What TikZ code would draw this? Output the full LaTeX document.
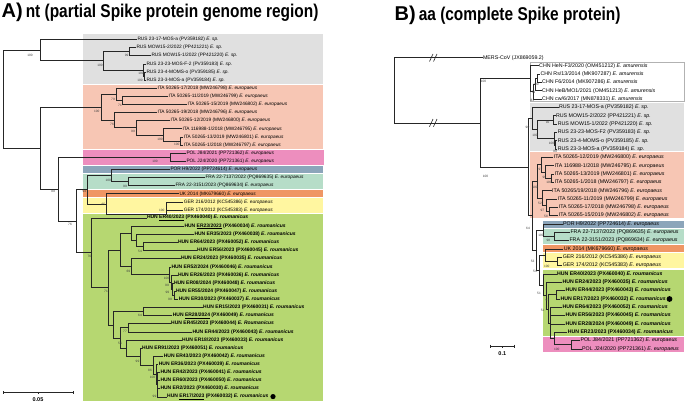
\documentclass[tikz,border=0pt]{standalone}
\usepackage{fontspec}
\setmainfont{Liberation Sans}
\usepackage{graphicx}
\newcommand\EEu{\textit{E. europaeus}}
\newcommand\ERo{\textit{E. roumanicus}}
\newcommand\ESp{\textit{E. sp.}}
\newcommand\EAm{\textit{E. amurensis}}
\definecolor{cgray}{RGB}{224,224,224}
\definecolor{csalmon}{RGB}{247,198,180}
\definecolor{cpink}{RGB}{237,142,190}
\definecolor{cblue}{RGB}{140,165,186}
\definecolor{cmint}{RGB}{182,221,200}
\definecolor{corange}{RGB}{239,150,100}
\definecolor{cyellow}{RGB}{255,246,160}
\definecolor{cgreen}{RGB}{182,215,113}
\begin{document}
\begin{tikzpicture}[x=1pt,y=-1pt,
  br/.style={draw=black!85,line width=0.6pt},
  la/.style={anchor=west,inner sep=0.3pt,font=\fontsize{4.8}{4.8}\selectfont},
  lah/.style={anchor=west,inner sep=0.3pt,font=\fontsize{5}{5}\selectfont\bfseries},
  lb/.style={anchor=west,inner sep=0.3pt,font=\fontsize{5.3}{5.3}\selectfont},
  lbh/.style={anchor=west,inner sep=0.3pt,font=\fontsize{5.2}{5.2}\selectfont\bfseries},
  bs/.style={inner sep=0pt,font=\fontsize{3.2}{3.2}\selectfont,text=black!75},
  ttl/.style={anchor=west,inner sep=0pt}]
\useasboundingbox (0,0) rectangle (685,403);
% ---------- titles
\node[ttl] (titleA) at (1.5,12.5) {\fontsize{20}{20}\selectfont\bfseries A)\hspace{3pt}\scalebox{0.835}[1]{\fontsize{18.5}{18.5}\selectfont\bfseries nt (partial Spike protein genome region)}};
\node[ttl] (titleB) at (394.5,15.5) {\fontsize{20}{20}\selectfont\bfseries B)\hspace{3pt}\scalebox{0.835}[1]{\fontsize{18.5}{18.5}\selectfont\bfseries aa (complete Spike protein)}};
% ---------- boxes A
\fill[cgray] (83,34.5) rectangle (323,83.6);
\fill[csalmon] (83,84.6) rectangle (323,148.6);
\fill[cpink] (83,149.8) rectangle (324,165);
\fill[cblue] (83,166) rectangle (323,173);
\fill[cmint] (83,174) rectangle (323,189.3);
\fill[corange] (83,190.3) rectangle (323,197);
\fill[cyellow] (83,198) rectangle (323,212.8);
\fill[cgreen] (83,213.8) rectangle (323,401);
% ---------- boxes B
\draw[draw=black!30,line width=0.4pt,fill=white] (530,62.3) rectangle (684,101.7);
\fill[cgray] (530,103.3) rectangle (684,150.7);
\fill[csalmon] (529.5,152.3) rectangle (684,218.5);
\fill[cblue] (542.7,220.8) rectangle (684,227.7);
\fill[cmint] (542.7,228.7) rectangle (684,244);
\fill[corange] (542.7,245) rectangle (684,252);
\fill[cyellow] (542.7,253) rectangle (684,268.5);
\fill[cgreen] (542.7,269.8) rectangle (684,336);
\fill[cpink] (542.7,337.3) rectangle (684,352);
% ---------- leaves A
\node[la] (a0) at (137,39.5) {RUS 23-17-MOS-a (PV359182) \ESp};
\node[la] (a1) at (136,47.6) {RUS MOW15-2/2022 (PP421221) \ESp};
\node[la] (a2) at (151,55.7) {RUS MOW15-1/2022 (PP421220) \ESp};
\node[la] (a3) at (146,63.9) {RUS 23-23-MOS-F-2 (PV359183) \ESp};
\node[la] (a4) at (146,72.0) {RUS 23-4-MOMS-o (PV359185) \ESp};
\node[la] (a5) at (146,80.1) {RUS 23-3-MOS-a (PV359184) \ESp};
\node[la] (a6) at (157,88.2) {ITA 50265-17/2018 (MW246798) \EEu};
\node[la] (a7) at (168,96.3) {ITA 50265-11/2019 (MW246799) \EEu};
\node[la] (a8) at (187,104.5) {ITA 50265-15/2019 (MW246802) \EEu};
\node[la] (a9) at (157,112.6) {ITA 50265-19/2018 (MW246796) \EEu};
\node[la] (a10) at (170,120.7) {ITA 50265-12/2019 (MW246800) \EEu};
\node[la] (a11) at (182,128.8) {ITA 116988-1/2018 (MW246795) \EEu};
\node[la] (a12) at (183.3,136.9) {ITA 50265-13/2019 (MW246801) \EEu};
\node[la] (a13) at (183.3,145.1) {ITA 50265-1/2018 (MW246797) \EEu};
\node[la] (a14) at (186,153.2) {POL J84/2021 (PP721362) \EEu};
\node[la] (a15) at (186,161.3) {POL J24/2020 (PP721361) \EEu};
\node[la] (a16) at (170,169.4) {POR H9/2022 (PP724614) \EEu};
\node[la] (a17) at (205,177.5) {FRA 22-7137/2022 (PQ869635) \EEu};
\node[la] (a18) at (175,185.7) {FRA 22-3151/2023 (PQ869634) \EEu};
\node[la] (a19) at (179,193.8) {UK 2014 (MK679660) \EEu};
\node[la] (a20) at (183.3,201.9) {GER 216/2012 (KC545386) \EEu};
\node[la] (a21) at (183.3,210.0) {GER 174/2012 (KC545383) \EEu};
\node[lah] (a22) at (146.5,218.1) {HUN \underline{ER40/2023} (PX460040) \ERo};
\node[lah] (a23) at (184,226.3) {HUN \underline{ER23/2023} (PX460034) \ERo};
\node[lah] (a24) at (194,234.4) {HUN ER35/2023 (PX460038) \ERo};
\node[lah] (a25) at (177.5,242.5) {HUN ER64/2023 (PX460052) \ERo};
\node[lah] (a26) at (196.7,250.6) {HUN ER56/2023 (PX460045) \ERo};
\node[lah] (a27) at (180.5,258.7) {HUN ER24/2023 (PX460035) \ERo};
\node[lah] (a28) at (171,266.9) {HUN ER52/2024 (PX460046) \ERo};
\node[lah] (a29) at (177.5,275.0) {HUN ER26/2023 (PX460036) \ERo};
\node[lah] (a30) at (173.5,283.1) {HUN ER08/2024 (PX460048) \ERo};
\node[lah] (a31) at (175.5,291.2) {HUN ER55/2024 (PX460047) \ERo};
\node[lah] (a32) at (178.3,299.3) {HUN ER30/2023 (PX460037) \ERo};
\node[lah] (a33) at (202.7,307.5) {HUN ER15/2023 (PX460031) \ERo};
\node[lah] (a34) at (172.3,315.6) {HUN \underline{ER28/2024} (PX460049) \ERo};
\node[lah] (a35) at (170.7,323.7) {HUN ER45/2023 (PX460044) \textit{E. Roumanicus}};
\node[lah] (a36) at (192,331.8) {HUN ER44/2023 (PX460043) \ERo};
\node[lah] (a37) at (181.7,339.9) {HUN ER18/2023 (PX460033) \ERo};
\node[lah] (a38) at (141.7,348.1) {HUN ER91/2023 (PX460051) \ERo};
\node[lah] (a39) at (163.3,356.2) {HUN ER43/2023 (PX460042) \ERo};
\node[lah] (a40) at (158.3,364.3) {HUN ER36/2023 (PX460039) \ERo};
\node[lah] (a41) at (160,372.4) {HUN ER42/2023 (PX460041) \ERo};
\node[lah] (a42) at (160,380.5) {HUN ER60/2023 (PX460050) \ERo};
\node[lah] (a43) at (160,388.7) {HUN ER2/2023 (PX460030) \ERo};
\node[lah] (a44) at (166.7,396.8) {HUN \underline{ER17/2023} (PX460032) \ERo};
\fill[black] (273,396.6) circle (2.6);
% ---------- internal nodes A
\coordinate (aRoot) at (3,99.2);
\coordinate (aRr) at (40,50.2);
\coordinate (aRsub) at (103,60.8);
\coordinate (aRmow) at (129,51.65);
\coordinate (aR3) at (143,70);
\coordinate (aR4) at (144.5,76.05);
\coordinate (aN1) at (40,148.2);
\coordinate (aIroot) at (101.5,107.25);
\coordinate (aIA) at (116.7,94.3);
\coordinate (aIA2) at (122.7,100.4);
\coordinate (aIB) at (114.3,120.2);
\coordinate (aIB2) at (136.7,127.8);
\coordinate (aIB3) at (163.3,134.9);
\coordinate (aIB4) at (180,141);
\coordinate (aN2) at (58.3,189.2);
\coordinate (aP) at (170,157.25);
\coordinate (aN3) at (76.7,221.2);
\coordinate (aG1) at (87.3,189.7);
\coordinate (aPF) at (111.7,175.5);
\coordinate (aF) at (128.3,181.6);
\coordinate (aUG) at (106.7,203.9);
\coordinate (aG) at (166.7,214.05);
\coordinate (aH) at (91.7,252.75);
\coordinate (aHR2) at (108.5,287.4);
\coordinate (aNA) at (120,250);
\coordinate (aN23) at (131.7,233.4);
\coordinate (aN35) at (136.7,240.5);
\coordinate (aN64) at (143.3,246.55);
\coordinate (aN24) at (131.7,266.6);
\coordinate (aN52) at (169,274.5);
\coordinate (aN26) at (171.5,282.1);
\coordinate (aN08) at (172.5,289.2);
\coordinate (aN55) at (174,295.25);
\coordinate (aNB) at (113,324.8);
\coordinate (aN15) at (143.3,311.55);
\coordinate (aNC) at (120,338);
\coordinate (aN45) at (128.3,327.75);
\coordinate (aN18) at (126,348.3);
\coordinate (aN91) at (140.5,356.7);
\coordinate (aN43) at (153.3,365.3);
\coordinate (aN36) at (156,374.45);
\coordinate (aN42) at (157.5,384.6);
\foreach \p/\c in {aRoot/aRr,aRoot/aN1,aRr/a0,aRr/aRsub,aRsub/aRmow,aRsub/aR3,aRmow/a1,aRmow/a2,aR3/a3,aR3/aR4,aR4/a4,aR4/a5,
  aN1/aIroot,aN1/aN2,aIroot/aIA,aIroot/aIB,aIA/a6,aIA/aIA2,aIA2/a7,aIA2/a8,aIB/a9,aIB/aIB2,aIB2/a10,aIB2/aIB3,aIB3/a11,aIB3/aIB4,aIB4/a12,aIB4/a13,
  aN2/aP,aN2/aN3,aP/a14,aP/a15,aN3/aG1,aN3/aH,aG1/aPF,aG1/aUG,aPF/a16,aPF/aF,aF/a17,aF/a18,aUG/a19,aUG/aG,aG/a20,aG/a21,
  aH/a22,aH/aHR2,aHR2/aNA,aHR2/aNB,aNA/aN23,aNA/aN24,aN23/a23,aN23/aN35,aN35/a24,aN35/aN64,aN64/a25,aN64/a26,
  aN24/a27,aN24/aN52,aN52/a28,aN52/aN26,aN26/a29,aN26/aN08,aN08/a30,aN08/aN55,aN55/a31,aN55/a32,
  aNB/aN15,aNB/aNC,aN15/a33,aN15/a34,aNC/aN45,aNC/aN18,aN45/a35,aN45/a36,aN18/a37,aN18/aN91,aN91/a38,aN91/aN43,
  aN43/a39,aN43/aN36,aN36/a40,aN36/aN42,aN42/a41,aN42/a42,aN42/a43,aN42/a44}
  \draw[br] (\p) |- (\c);
\foreach \x/\y/\t [count=\i] in {30/55/100,126.7/55/99,100/65.5/100,141/73.3/100,140/80/100,96.7/111.7/100,113/99/79,120/105.3/71,
  112/124.3/76,133/131.7/99,160/139.3/100,176.7/144.3/100,155/161.7/100,53/191.7/99,84.3/191.7/94,108.3/180/100,125/186.5/99,
  103.3/204/65,161.7/210/100,70/224/76,89.3/256.7/76,140/251.7/54,128.3/271/69,166.5/278/100,167/285/99,167.3/292.7/99,170/299.5/99,
  106/291.7/71,140/315.7/64,125/331.7/77,120/343/56,137.5/361.5/99,150/370/86,152.5/377.5/100,154.5/396.5/99}
  \node[bs] (bsa\i) at (\x,\y) {\t};
% scale bar A
\coordinate (sa1) at (3,392.5);
\coordinate (sa2) at (73,392.5);
\draw[br,line width=0.5pt] (sa1) -- (sa2);
\draw[br,line width=0.5pt] (3,391) -- (3,394) (73,391) -- (73,394) (38,392.5) -- (38,394);
\node[inner sep=0pt,font=\fontsize{5.5}{5.5}\selectfont\bfseries] (sal) at (38,399.5) {0.05};
% ---------- leaves B
\node[lb] (bm) at (482.5,57.7) {MERS-CoV (JX869059.2)};
\node[lb] (b0) at (538.7,65.7) {CHN HeN-F3/2020 (OM451212) \EAm};
\node[lb] (b1) at (540,74.0) {CHN Rs/13/2014 (MK907287) \EAm};
\node[lb] (b2) at (541.7,82.4) {CHN F6/2014 (MK907286) \EAm};
\node[lb] (b3) at (541.7,90.7) {CHN HeB/MO1/2021 (OM451213) \EAm};
\node[lb] (b4) at (541.7,99.0) {CHN cw/6/2017 (MN878331) \EAm};
\node[lb] (b5) at (558.5,107.4) {RUS 23-17-MOS-a (PV359182) \ESp};
\node[lb] (b6) at (555.5,115.7) {RUS MOW15-2/2022 (PP421221) \ESp};
\node[lb] (b7) at (557.3,124.0) {RUS MOW15-1/2022 (PP421220) \ESp};
\node[lb] (b8) at (557.3,132.3) {RUS 23-23-MOS-F2 (PV359183) \ESp};
\node[lb] (b9) at (557.3,140.7) {RUS 23-4-MOMS-o (PV359185) \ESp};
\node[lb] (b10) at (557.3,149.0) {RUS 23-3-MOS-a (PV359184) \ESp};
\node[lb] (b11) at (553.3,157.3) {ITA 50265-12/2019 (MW246800) \EEu};
\node[lb] (b12) at (554,165.7) {ITA 116988-1/2018 (MW246795) \EEu};
\node[lb] (b13) at (554,174.0) {ITA 50265-13/2019 (MW246801) \EEu};
\node[lb] (b14) at (554,182.3) {ITA 50265-1/2018 (MW246797) \EEu};
\node[lb] (b15) at (551.7,190.7) {ITA 50265/19/2018 (MW246796) \EEu};
\node[lb] (b16) at (557.3,199.0) {ITA 50265-11/2019 (MW246799) \EEu};
\node[lb] (b17) at (558.3,207.3) {ITA 50265-17/2018 (MW246798) \EEu};
\node[lb] (b18) at (558.3,215.6) {ITA 50265-15/2019 (MW246802) \EEu};
\node[lb] (b19) at (562.7,224.0) {POR H9/2022 (PP724614) \EEu};
\node[lb] (b20) at (570,232.3) {FRA 22-7137/2022 (PQ869635) \EEu};
\node[lb] (b21) at (569,240.6) {FRA 22-3151/2023 (PQ869634) \EEu};
\node[lb] (b22) at (563.3,249.0) {UK 2014 (MK679660) \EEu};
\node[lb] (b23) at (562.3,257.3) {GER 216/2012 (KC545386) \EEu};
\node[lb] (b24) at (562.3,265.6) {GER 174/2012 (KC545383) \EEu};
\node[lbh] (b25) at (556.7,274.0) {HUN ER40/2023 (PX460040) \ERo};
\node[lbh] (b26) at (562,282.3) {HUN ER24/2023 (PX460035) \ERo};
\node[lbh] (b27) at (565,290.6) {HUN ER44/2023 (PX460043) \ERo};
\node[lbh] (b28) at (560,298.9) {HUN ER17/2023 (PX460032) \ERo};
\node[lbh] (b29) at (562,307.3) {HUN ER64/2023 (PX460052) \ERo};
\node[lbh] (b30) at (565,315.6) {HUN ER56/2023 (PX460045) \ERo};
\node[lbh] (b31) at (565,323.9) {HUN ER28/2024 (PX460049) \ERo};
\node[lbh] (b32) at (567.3,332.3) {HUN ER23/2023 (PX460034) \ERo};
\node[lb] (b33) at (580,340.6) {POL J84/2021 (PP721362) \EEu};
\node[lb] (b34) at (581.7,348.9) {POL J24/2020 (PP721361) \EEu};
\fill[black] (669.5,299) circle (2.9);
% ---------- internal nodes B
\coordinate (bRoot) at (394.3,90.3);
\coordinate (bN1) at (480.7,122.85);
\coordinate (bC0) at (530.7,78.7);
\coordinate (bC1) at (533.5,91.7);
\coordinate (bC2) at (535.5,84.45);
\coordinate (bC3) at (537.7,78.2);
\coordinate (bN2) at (528.3,167);
\coordinate (bR0) at (532.5,118.3);
\coordinate (bR1) at (537,129.2);
\coordinate (bR2) at (553.5,119.85);
\coordinate (bR3) at (554.3,138.6);
\coordinate (bR4) at (555.3,144.85);
\coordinate (bN3) at (532.7,215.7);
\coordinate (bI0) at (537.5,181.3);
\coordinate (bI1) at (541,164.6);
\coordinate (bI2) at (545.5,171.9);
\coordinate (bI3) at (551,178.15);
\coordinate (bI5) at (542.5,197.95);
\coordinate (bI6) at (546,205.2);
\coordinate (bI7) at (549,211.45);
\coordinate (bN4) at (536,250.1);
\coordinate (bPF) at (543.3,230.2);
\coordinate (bF) at (554,236.45);
\coordinate (bN5) at (539.5,270);
\coordinate (bUG) at (545,255.2);
\coordinate (bG) at (557.3,261.45);
\coordinate (bH0) at (543.5,284.8);
\coordinate (bH1) at (546.5,295.55);
\coordinate (bH2) at (548.5,308.8);
\coordinate (bN17) at (556.7,294.75);
\coordinate (bH3) at (550.5,322.9);
\coordinate (bHP2) at (554,338.5);
\coordinate (bPOL) at (571.7,344.75);
\foreach \p/\c in {bRoot/bm,bRoot/bN1,bN1/bC0,bN1/bN2,bC0/b0,bC0/bC1,bC1/bC2,bC1/b4,bC2/bC3,bC2/b3,bC3/b1,bC3/b2,
  bN2/bR0,bN2/bN3,bR0/b5,bR0/bR1,bR1/bR2,bR1/bR3,bR2/b6,bR2/b7,bR3/b8,bR3/bR4,bR4/b9,bR4/b10,
  bN3/bI0,bN3/bN4,bI0/bI1,bI0/bI5,bI1/b11,bI1/bI2,bI2/b12,bI2/bI3,bI3/b13,bI3/b14,bI5/b15,bI5/bI6,bI6/b16,bI6/bI7,bI7/b17,bI7/b18,
  bN4/bPF,bN4/bN5,bPF/b19,bPF/bF,bF/b20,bF/b21,bN5/bUG,bN5/bH0,bUG/b22,bUG/bG,bG/b23,bG/b24,
  bH0/b25,bH0/bH1,bH1/b26,bH1/bH2,bH2/bN17,bH2/bH3,bN17/b27,bN17/b28,bH3/b29,bH3/b30,bH3/b31,bH3/bHP2,bHP2/b32,bHP2/bPOL,bPOL/b33,bPOL/b34}
  \draw[br] (\p) |- (\c);
% break marks
\foreach \y in {57.7,122.85} {
  \draw[br] (429.5,\y+3.8) -- (433,\y-3.8);
  \draw[br] (433.5,\y+3.8) -- (437,\y-3.8);
}
\foreach \x/\y/\t [count=\i] in {483.5/81.5/100,536/84/100,533.3/92/79,532.3/100.5/81,527.5/127/90,547.7/122/92,535/135/100,551.5/143.5/100,555/151/99,
  485.5/176/100,540.5/169/97,544.3/177/99,549/182.5/100,535/187/100,540/203/52,542.3/210/97,546/216.5/58,
  528/228.5/64,541/235/100,548.3/240.5/98,532.7/261/53,546.7/266.5/100,535/271/54,539/293.5/51,547.3/300.5/97,542.7/310.5/51,556.7/349.5/100}
  \node[bs] (bsb\i) at (\x,\y) {\t};
% scale bar B
\coordinate (sb1) at (490,346);
\coordinate (sb2) at (514.3,346);
\draw[br,line width=0.5pt] (sb1) -- (sb2);
\draw[br,line width=0.5pt] (490,344.5) -- (490,347.5) (514.3,344.5) -- (514.3,347.5) (502.2,346) -- (502.2,347.5);
\node[inner sep=0pt,font=\fontsize{5.5}{5.5}\selectfont\bfseries] (sbl) at (502.3,353.3) {0.1};
\end{tikzpicture}
\end{document}
